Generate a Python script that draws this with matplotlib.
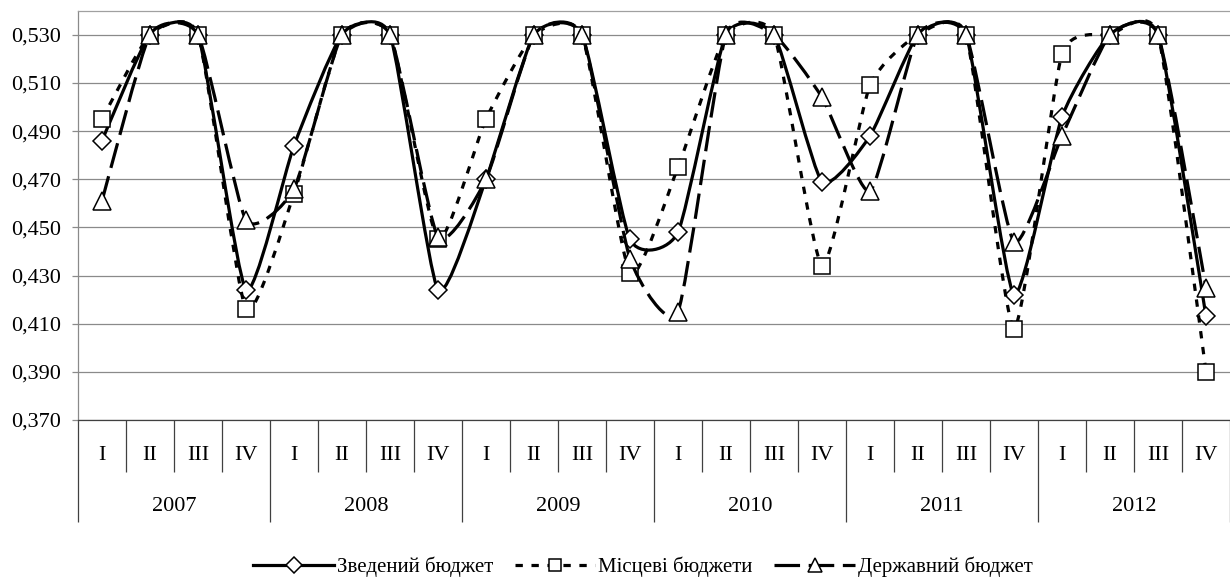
import numpy as np
import matplotlib.pyplot as plt
from matplotlib.path import Path
from matplotlib.patches import PathPatch
from matplotlib.lines import Line2D

plt.rcParams['font.family'] = ['Liberation Serif', 'DejaVu Serif']

years = ['2007', '2008', '2009', '2010', '2011', '2012']
quarters = ['I', 'II', 'III', 'IV']

# Зведений бюджет
zved = [0.486, 0.530, 0.530, 0.424,
        0.484, 0.530, 0.530, 0.424,
        0.470, 0.530, 0.530, 0.445,
        0.448, 0.530, 0.530, 0.469,
        0.488, 0.530, 0.530, 0.422,
        0.496, 0.530, 0.530, 0.413]

# Місцеві бюджети
mists = [0.495, 0.530, 0.530, 0.416,
         0.464, 0.530, 0.530, 0.445,
         0.495, 0.530, 0.530, 0.431,
         0.475, 0.530, 0.530, 0.434,
         0.509, 0.530, 0.530, 0.408,
         0.522, 0.530, 0.530, 0.390]

# Державний бюджет
derzh = [0.461, 0.530, 0.530, 0.453,
         0.466, 0.530, 0.530, 0.446,
         0.470, 0.530, 0.530, 0.437,
         0.415, 0.530, 0.530, 0.504,
         0.465, 0.530, 0.530, 0.444,
         0.488, 0.530, 0.530, 0.425]

labels = ['Зведений бюджет', 'Місцеві бюджети', 'Державний бюджет']
y_ticks = [0.370, 0.390, 0.410, 0.430, 0.450, 0.470, 0.490, 0.510, 0.530]


def smooth_path(xs, ys, k=0.55):
    # bezier curve through the points, like a smoothed excel line
    pts = np.column_stack([xs, ys])
    n = len(pts)
    verts = [pts[0]]
    codes = [Path.MOVETO]
    for i in range(n - 1):
        p0 = pts[max(i - 1, 0)]
        p1 = pts[i]
        p2 = pts[i + 1]
        p3 = pts[min(i + 2, n - 1)]
        verts += [p1 + k * (p2 - p0) / 6, p2 - k * (p3 - p1) / 6, p2]
        codes += [Path.CURVE4] * 3
    return Path(verts, codes)


fig = plt.figure(figsize=(12.3, 5.77), dpi=100)
ax = fig.add_axes([78 / 1230, 1 - 420 / 577, 1 - 78 / 1230, (420 - 10.7) / 577])

x = np.arange(len(zved))
styles = [
    dict(ls='-', marker='D', ms=9, lms=8.5),
    dict(ls=(0, (2.3, 2.7)), marker='s', ms=12, lms=8.5),
    dict(ls=(0, (8, 2.7)), marker='^', ms=13.5, lms=10),
]
handles = []
for i, (vals, st) in enumerate(zip([zved, mists, derzh], styles)):
    patch = PathPatch(smooth_path(x, vals), facecolor='none', edgecolor='black',
                      lw=2.3, linestyle=st['ls'], capstyle='butt', zorder=3 + 2 * i)
    ax.add_patch(patch)
    ax.plot(x, vals, linestyle='none', marker=st['marker'], ms=st['ms'],
            mfc='white', mec='black', mew=1.1, zorder=4 + 2 * i, clip_on=False)
    handles.append(Line2D([], [], color='black', lw=2.3, ls=st['ls'],
                          marker=st['marker'], ms=st['lms'], mfc='white',
                          mec='black', mew=1.1, dash_capstyle='butt'))

ax.set_xlim(-0.5, len(zved) - 0.5)
ax.set_ylim(0.370, 0.540)
ax.set_yticks(y_ticks)
ax.set_yticklabels([('%.3f' % v).replace('.', ',') for v in y_ticks])
ax.yaxis.grid(True, color='#8a8a8a', lw=0.9)
ax.set_axisbelow(True)

ax.set_xticks(np.arange(-0.5, len(zved), 4))
ax.set_xticks(np.arange(-0.5, len(zved), 1), minor=True)
ax.tick_params(axis='x', which='major', length=73.4, width=0.9, color='#404040',
               labelbottom=False)
ax.tick_params(axis='x', which='minor', length=37.4, width=0.9, color='#404040')
ax.tick_params(axis='y', length=4.3, width=0.9, color='#8a8a8a', pad=8,
               labelsize=16)

ax.spines['right'].set_visible(False)
ax.spines['top'].set_color('#a0a0a0')
ax.spines['left'].set_color('#8a8a8a')
ax.spines['bottom'].set_color('#404040')
for s in ax.spines.values():
    s.set_linewidth(0.9)

tr = ax.get_xaxis_transform()
for i in range(len(zved)):
    ax.text(i, -35 / 409.3, quarters[i % 4], transform=tr, ha='center',
            va='center', fontsize=16)
for j, yr in enumerate(years):
    ax.text(4 * j + 1.5, -87 / 409.3, yr, transform=tr, ha='center',
            va='center', fontsize=16)

fig.legend(handles, labels, loc='center', bbox_to_anchor=(643 / 1230, 1 - 567 / 577),
           ncol=3, frameon=False, fontsize=15, handlelength=3.85,
           handletextpad=0.15, columnspacing=1.05)

plt.savefig('out.png', dpi=100)
